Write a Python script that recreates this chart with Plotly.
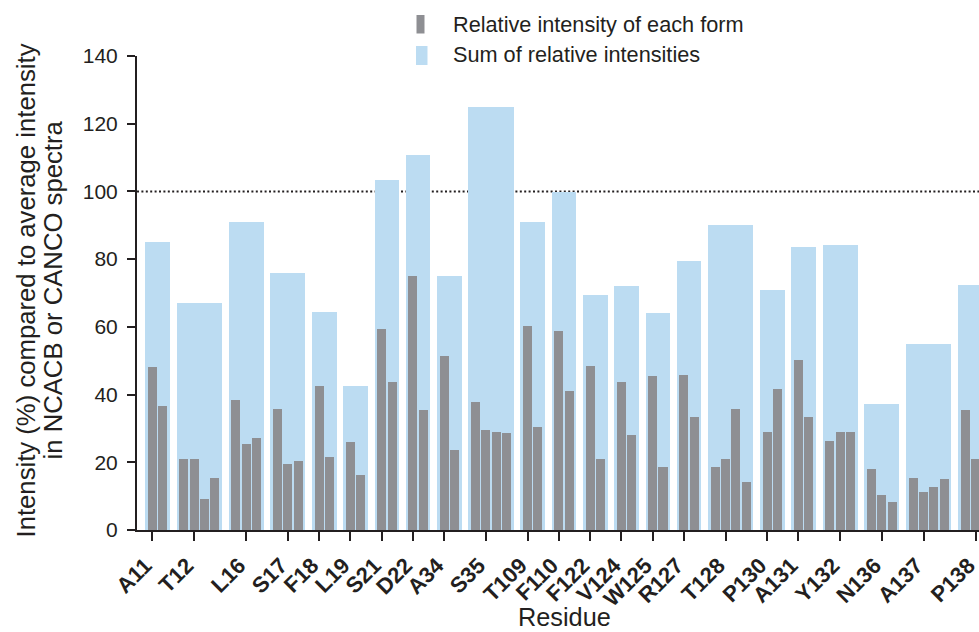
import plotly.graph_objects as go

# Residues and the relative intensity (%) of each observed form
residues = ["A11", "T12", "L16", "S17", "F18", "L19", "S21", "D22", "A34", "S35",
            "T109", "F110", "F122", "V124", "W125", "R127", "T128", "P130", "A131",
            "Y132", "N136", "A137", "P138"]

form_intensities = [
    [48.1, 36.6],
    [21.0, 21.0, 9.2, 15.4],
    [38.4, 25.4, 27.2],
    [35.7, 19.5, 20.4],
    [42.5, 21.6],
    [26.0, 16.3],
    [59.4, 43.7],
    [75.0, 35.4],
    [51.4, 23.6],
    [37.8, 29.5, 28.9, 28.6],
    [60.2, 30.4],
    [58.8, 41.0],
    [48.4, 21.0],
    [43.7, 28.1],
    [45.5, 18.6],
    [45.8, 33.4],
    [18.6, 21.0, 35.7, 14.2],
    [28.9, 41.6],
    [50.2, 33.4],
    [26.3, 28.9, 28.9],
    [18.0, 10.3, 8.3],
    [15.4, 11.2, 12.7, 15.1],
    [35.4, 21.0, 16.0],
]

sum_intensities = [85.1, 67.0, 91.0, 75.9, 64.4, 42.5, 103.4, 110.7, 75.0, 124.9,
                   91.0, 99.8, 69.4, 72.1, 64.1, 79.4, 90.1, 70.9, 83.6, 84.2,
                   37.2, 54.9, 72.4]

reference_level = 100

GREY = "#8E8F93"
BLUE = "#BCDCF2"
INK = "#231F20"
FONT = "Liberation Sans"

# One slot per form, one empty slot between residues
x_form, y_form = [], []
x_sum, w_sum = [], []
tick_pos = []
slot = 0
for forms in form_intensities:
    n = len(forms)
    for k, v in enumerate(forms):
        x_form.append(slot + k)
        y_form.append(v)
    x_sum.append(slot + (n - 1) / 2)
    w_sum.append(n + 0.36)
    tick_pos.append(slot + (n - 1) // 2)
    slot += n + 1

fig = go.Figure()
fig.add_trace(go.Bar(
    x=x_sum, y=sum_intensities, width=w_sum,
    marker=dict(color=BLUE, line=dict(width=0)),
    name="Sum of relative intensities", showlegend=False,
))
fig.add_trace(go.Bar(
    x=x_form, y=y_form, width=0.865,
    marker=dict(color=GREY, line=dict(width=0)),
    name="Relative intensity of each form", showlegend=False,
))

# 100 % reference line, drawn behind the bars
fig.add_shape(type="line", xref="paper", x0=0, x1=1, yref="y",
              y0=reference_level, y1=reference_level,
              line=dict(color=INK, width=2, dash="2px,2.4px"), layer="below")

W, H = 979, 632
ML, MR, MT, MB = 137, 0, 56, 102
PW, PH = W - ML - MR, H - MT - MB


def px_x(p):
    return (p - ML) / PW


def px_y(p):
    return (H - MB - p) / PH


# Legend swatches and labels
fig.add_shape(type="rect", xref="paper", yref="paper",
              x0=px_x(416.5), x1=px_x(424.5), y0=px_y(33.5), y1=px_y(15),
              fillcolor=GREY, line=dict(width=0), layer="above")
fig.add_shape(type="rect", xref="paper", yref="paper",
              x0=px_x(416), x1=px_x(427.5), y0=px_y(65), y1=px_y(46),
              fillcolor=BLUE, line=dict(width=0), layer="above")
fig.add_annotation(text="Relative intensity of each form", xref="paper", yref="paper",
                   x=px_x(451), y=px_y(24.5), xanchor="left", yanchor="middle",
                   showarrow=False, font=dict(family=FONT, size=21.7, color=INK))
fig.add_annotation(text="Sum of relative intensities", xref="paper", yref="paper",
                   x=px_x(451), y=px_y(55), xanchor="left", yanchor="middle",
                   showarrow=False, font=dict(family=FONT, size=21.7, color=INK))

# Axis titles
fig.add_annotation(text="Intensity (%) compared to average intensity",
                   xref="paper", yref="paper", x=px_x(25), y=px_y(290.5),
                   xanchor="center", yanchor="middle", textangle=-90,
                   showarrow=False, font=dict(family=FONT, size=25.7, color=INK))
fig.add_annotation(text="in NCACB or CANCO spectra",
                   xref="paper", yref="paper", x=px_x(52), y=px_y(290.5),
                   xanchor="center", yanchor="middle", textangle=-90,
                   showarrow=False, font=dict(family=FONT, size=25.7, color=INK))
fig.add_annotation(text="Residue", xref="paper", yref="paper",
                   x=px_x(564), y=px_y(617), xanchor="center", yanchor="middle",
                   showarrow=False, font=dict(family=FONT, size=25.3, color=INK))

left_edge = -1.48
right_edge = left_edge + PW / 10.42

fig.update_layout(
    width=W, height=H,
    margin=dict(l=ML, r=MR, t=MT, b=MB, pad=0, autoexpand=False),
    paper_bgcolor="white", plot_bgcolor="white",
    barmode="overlay", bargap=0,
    showlegend=False,
    font=dict(family=FONT, color=INK),
    xaxis=dict(
        range=[left_edge, right_edge], automargin=False,
        tickmode="array", tickvals=tick_pos, ticktext=residues,
        tickangle=-45, ticklabeloverflow="allow",
        ticklabelshift=-7, ticklabelstandoff=3,
        tickfont=dict(family=FONT, size=22, color=INK, weight="bold"),
        ticks="outside", ticklen=9, tickwidth=2, tickcolor=INK,
        showline=True, linewidth=2, linecolor=INK,
        showgrid=False, zeroline=False,
    ),
    yaxis=dict(
        range=[0, 140], automargin=False,
        tickmode="linear", tick0=0, dtick=20,
        tickfont=dict(family=FONT, size=21, color=INK),
        ticks="outside", ticklen=8, tickwidth=2, tickcolor=INK,
        ticklabelstandoff=5,
        showline=True, linewidth=2, linecolor=INK,
        showgrid=False, zeroline=False,
    ),
)

fig.write_html("out.html")
